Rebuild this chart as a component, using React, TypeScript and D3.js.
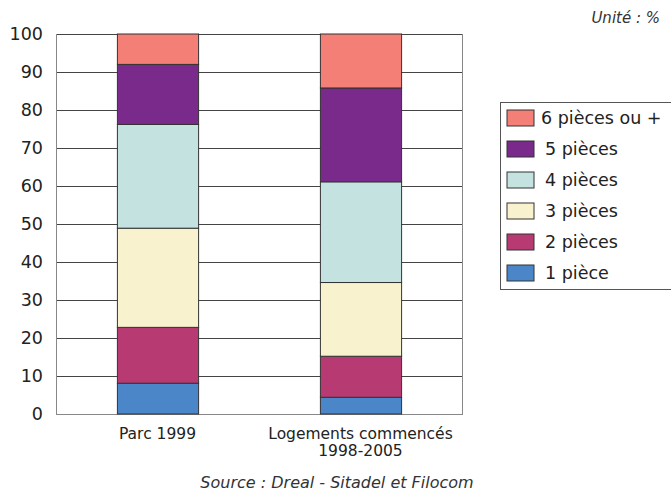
import React from "react";
import * as d3 from "d3";

const categories = ["Parc 1999", "Logements commencés\n1998-2005"];
const seriesNames = ["1 pièce", "2 pièces", "3 pièces", "4 pièces", "5 pièces", "6 pièces ou +"];
const seriesColors = ["#4a86c8", "#b83a72", "#f8f2ce", "#c3e2e0", "#7a2a8a", "#f37f76"];
const parc1999 = [8.1, 14.7, 26.1, 27.3, 15.8, 8.0];
const logements = [4.4, 10.8, 19.4, 26.5, 24.7, 14.2];
const yTicks = [0, 10, 20, 30, 40, 50, 60, 70, 80, 90, 100];

const W = 671;
const H = 492;
const plot = { left: 56, right: 462, top: 34, bottom: 414 };
const FONT = "'DejaVu Sans', Verdana, sans-serif";

export default function App() {
  const values = [parc1999, logements];
  const rows = categories.map((c, i) => {
    const r: Record<string, any> = { cat: c };
    seriesNames.forEach((s, j) => (r[s] = values[i][j]));
    return r;
  });
  const stack = d3.stack<Record<string, any>>().keys(seriesNames)(rows);

  const y = d3.scaleLinear().domain([0, 100]).range([plot.bottom, plot.top]);
  const x = d3
    .scaleBand<string>()
    .domain(categories)
    .range([plot.left, plot.right])
    .paddingInner(0.6)
    .paddingOuter(0.3);

  const legendX = 500.5;
  const legendY = 102.5;
  const rowH = 31;

  return (
    <svg
      width={W}
      height={H}
      style={{ position: "absolute", left: 0, top: 0, background: "#fff" }}
      fontFamily={FONT}
    >
      <rect x={0} y={0} width={W} height={H} fill="#fff" />
      <text x={660} y={23} fontSize={15} fontStyle="italic" textAnchor="end" fill="#333">
        Unité : %
      </text>

      {/* gridlines */}
      {yTicks.map((t) => (
        <line
          key={t}
          x1={plot.left}
          x2={plot.right}
          y1={Math.round(y(t)) + 0.5}
          y2={Math.round(y(t)) + 0.5}
          stroke={t === 0 ? "#888" : "#444"}
          strokeWidth={1}
        />
      ))}
      {/* frame */}
      <line x1={plot.left + 0.5} x2={plot.left + 0.5} y1={plot.top} y2={plot.bottom + 1} stroke="#888" />
      <line x1={plot.right + 0.5} x2={plot.right + 0.5} y1={plot.top} y2={plot.bottom + 1} stroke="#888" />

      {/* y tick labels */}
      {yTicks.map((t) => (
        <text
          key={t}
          x={43}
          y={y(t)}
          dy="0.35em"
          fontSize={17.5}
          textAnchor="end"
          fill="#222"
        >
          {t}
        </text>
      ))}

      {/* stacked bars */}
      {stack.map((layer, li) => (
        <g key={layer.key}>
          {layer.map((d, ci) => (
            <rect
              key={ci}
              x={(x(categories[ci]) as number) + 0.5}
              y={y(d[1])}
              width={x.bandwidth()}
              height={y(d[0]) - y(d[1])}
              fill={seriesColors[li]}
              stroke="#333"
              strokeWidth={1}
            />
          ))}
        </g>
      ))}

      {/* category labels */}
      {categories.map((c) => {
        const cx = (x(c) as number) + x.bandwidth() / 2;
        return (
          <text key={c} x={cx} y={439} fontSize={15.5} textAnchor="middle" fill="#222">
            {c.split("\n").map((line, i) => (
              <tspan key={i} x={cx} dy={i === 0 ? 0 : 17}>
                {line}
              </tspan>
            ))}
          </text>
        );
      })}

      {/* legend */}
      <rect x={legendX} y={legendY} width={W - legendX + 5} height={187} fill="#fff" stroke="#555" />
      {seriesNames
        .slice()
        .reverse()
        .map((name, i) => {
          const ci = seriesNames.length - 1 - i;
          const top = legendY + 7.5 + i * rowH;
          return (
            <g key={name}>
              <rect x={507} y={top} width={27} height={16} fill={seriesColors[ci]} stroke="#333" />
              <text x={i === 0 ? 541 : 545} y={top + 8} dy="0.35em" fontSize={17.5} fill="#222">
                {name}
              </text>
            </g>
          );
        })}

      <text x={337} y={488} fontSize={16} fontStyle="italic" textAnchor="middle" fill="#333">
        Source : Dreal - Sitadel et Filocom
      </text>
    </svg>
  );
}
